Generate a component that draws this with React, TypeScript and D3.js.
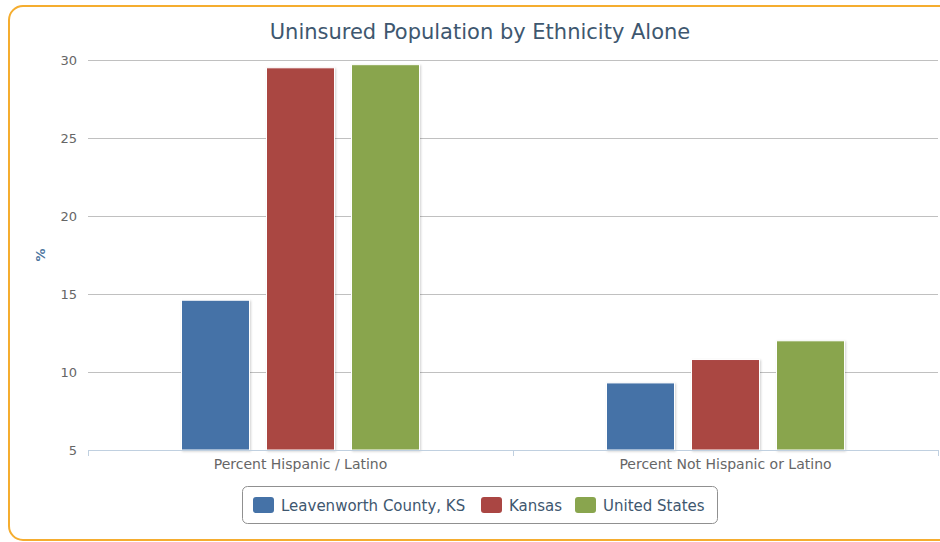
import React, { useEffect, useRef } from 'react';
import * as d3 from 'd3';

const categories = ['Percent Hispanic / Latino', 'Percent Not Hispanic or Latino'];
const seriesNames = ['Leavenworth County, KS', 'Kansas', 'United States'];
const seriesColors = ['#4572A7', '#AA4643', '#89A54E'];
const leavenworth = [14.6, 9.3];
const kansas = [29.5, 10.8];
const unitedStates = [29.7, 12.0];
const yTicks = [5, 10, 15, 20, 25, 30];

const App: React.FC = () => {
  const ref = useRef<SVGSVGElement>(null);

  useEffect(() => {
    if (!ref.current) return;
    const svg = d3.select(ref.current);
    svg.selectAll('*').remove();

    const width = 940;
    const height = 542;
    const font = '"DejaVu Sans", Verdana, sans-serif';
    const plot = { left: 88, right: 938, top: 60, bottom: 450 };

    svg.attr('width', width).attr('height', height);

    const defs = svg.append('defs');
    const f = defs.append('filter').attr('id', 'shadow').attr('x', '-20%').attr('y', '-20%').attr('width', '140%').attr('height', '140%');
    f.append('feDropShadow').attr('dx', 1).attr('dy', 1).attr('stdDeviation', 0.8)
      .attr('flood-color', '#000').attr('flood-opacity', 0.18);

    // Outer frame
    svg.append('rect')
      .attr('x', 9).attr('y', 6).attr('width', 960).attr('height', 534)
      .attr('rx', 14).attr('fill', '#fff')
      .attr('stroke', '#F5AD2F').attr('stroke-width', 2);

    const x0 = d3.scaleBand().domain(categories).range([plot.left, plot.right]).paddingInner(0).paddingOuter(0);
    const yScale = d3.scaleLinear().domain([5, 30]).range([plot.bottom, plot.top]);

    // Title
    svg.append('text')
      .attr('x', 480).attr('y', 39)
      .attr('text-anchor', 'middle')
      .style('font-family', font).style('font-size', '21px')
      .attr('fill', '#3E576F')
      .text('Uninsured Population by Ethnicity Alone');

    // Grid
    svg.append('g').selectAll('line').data(yTicks.filter(t => t !== 5)).join('line')
      .attr('x1', plot.left).attr('x2', plot.right)
      .attr('y1', d => Math.round(yScale(d)) + 0.5).attr('y2', d => Math.round(yScale(d)) + 0.5)
      .attr('stroke', '#C0C0C0').attr('stroke-width', 1);

    // Y tick labels
    svg.append('g').selectAll('text').data(yTicks).join('text')
      .attr('x', 77).attr('y', d => yScale(d) + 4.5)
      .attr('text-anchor', 'end')
      .style('font-family', font).style('font-size', '13px')
      .attr('fill', '#666')
      .text(d => String(d));

    // Y axis title
    svg.append('text')
      .attr('transform', `translate(45,${(plot.top + plot.bottom) / 2}) rotate(-90)`)
      .attr('text-anchor', 'middle')
      .style('font-family', font).style('font-size', '13px').style('font-weight', 'bold')
      .attr('fill', '#4D759E')
      .text('%');

    // Bars
    const seriesValues = [leavenworth, kansas, unitedStates];
    const groupPad = x0.bandwidth() * 0.2;
    const x1 = d3.scaleBand().domain(seriesNames)
      .range([0, x0.bandwidth() - groupPad * 2]).paddingInner(0.2).paddingOuter(0.1);

    const bars = svg.append('g');
    categories.forEach((cat, ci) => {
      seriesNames.forEach((name, si) => {
        const v = seriesValues[si][ci];
        const bx = (x0(cat) ?? 0) + groupPad + (x1(name) ?? 0);
        bars.append('rect')
          .attr('x', bx).attr('y', yScale(v))
          .attr('width', x1.bandwidth()).attr('height', yScale(5) - yScale(v))
          .attr('fill', seriesColors[si])
          .attr('stroke', '#fff').attr('stroke-width', 1)
          .attr('filter', 'url(#shadow)');
      });
    });

    // X axis line + ticks
    svg.append('line')
      .attr('x1', plot.left).attr('x2', plot.right)
      .attr('y1', plot.bottom + 0.5).attr('y2', plot.bottom + 0.5)
      .attr('stroke', '#C0D0E0').attr('stroke-width', 1);
    const tickXs = categories.map(c => x0(c) ?? 0).concat([plot.right]);
    svg.append('g').selectAll('line').data(tickXs).join('line')
      .attr('x1', d => Math.round(d) + 0.5).attr('x2', d => Math.round(d) + 0.5)
      .attr('y1', plot.bottom).attr('y2', plot.bottom + 6)
      .attr('stroke', '#C0D0E0');

    svg.append('g').selectAll('text').data(categories).join('text')
      .attr('x', d => (x0(d) ?? 0) + x0.bandwidth() / 2)
      .attr('y', 469)
      .attr('text-anchor', 'middle')
      .style('font-family', font).style('font-size', '14px')
      .attr('fill', '#666')
      .text(d => d);

    // Legend
    const lg = svg.append('g');
    lg.append('rect')
      .attr('x', 242.5).attr('y', 486.5).attr('width', 475).attr('height', 37)
      .attr('rx', 5).attr('fill', '#fff')
      .attr('stroke', '#909090').attr('stroke-width', 1);
    const itemX = [253, 481, 575];
    seriesNames.forEach((name, i) => {
      lg.append('rect')
        .attr('x', itemX[i]).attr('y', 497).attr('width', 21).attr('height', 16)
        .attr('rx', 3).attr('fill', seriesColors[i]);
      lg.append('text')
        .attr('x', itemX[i] + 28).attr('y', 510.5)
        .style('font-family', font).style('font-size', '15px')
        .attr('fill', '#3E576F')
        .text(name);
    });
  }, []);

  return (
    <svg ref={ref} style={{ position: 'absolute', left: 0, top: 0, display: 'block' }}></svg>
  );
};

export default App;
